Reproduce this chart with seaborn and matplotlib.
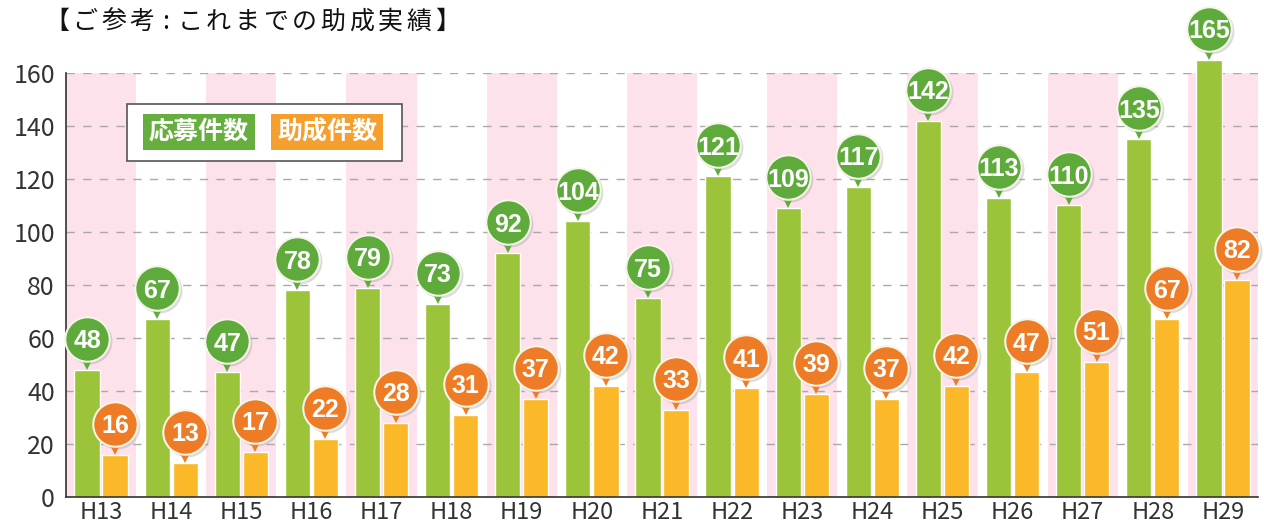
import pandas as pd
import seaborn as sns
import matplotlib.pyplot as plt
from matplotlib.patches import Rectangle
from matplotlib.transforms import offset_copy

# Data
years = ["H13", "H14", "H15", "H16", "H17", "H18", "H19", "H20", "H21",
         "H22", "H23", "H24", "H25", "H26", "H27", "H28", "H29"]
applications = [48, 67, 47, 78, 79, 73, 92, 104, 75, 121, 109, 117, 142, 113, 110, 135, 165]
grants = [16, 13, 17, 22, 28, 31, 37, 42, 33, 41, 39, 37, 42, 47, 51, 67, 82]
series_names = ["応募件数", "助成件数"]
title = "【ご参考:これまでの助成実績】"

bar_colors = ["#9cc43a", "#fbb828"]
bubble_colors = ["#5eab3c", "#ee7b25"]
legend_colors = ["#66ae3d", "#f5a02e"]
pink = "#fde1eb"

df = pd.DataFrame({
    "year": years * 2,
    "count": applications + grants,
    "kind": [series_names[0]] * len(years) + [series_names[1]] * len(years),
})

sns.set_style("white")
plt.rcParams["font.family"] = ["Noto Sans CJK JP", "DejaVu Sans"]

fig = plt.figure(figsize=(12.64, 5.29), dpi=100)
ax = fig.add_axes([66 / 1264, 32 / 529, 1192 / 1264, 424 / 529])

# alternating pink column backgrounds
for i in range(0, len(years), 2):
    ax.axvspan(i - 0.5, i + 0.5, color=pink, zorder=0, lw=0)

ax.set_axisbelow(True)
ax.yaxis.grid(True, ls=(0, (6, 6)), color="#aaaaaa", lw=1)

sns.barplot(data=df, x="year", y="count", hue="kind", order=years,
            hue_order=series_names, palette=bar_colors, width=0.8, gap=0.1,
            saturation=1, legend=False, ax=ax, zorder=2)
for p in ax.patches:
    p.set_clip_on(False)

ax.set_ylim(0, 160)
ax.set_xlim(-0.5, len(years) - 0.5)
ax.set_yticks(range(0, 161, 20))
ax.set_xlabel("")
ax.set_ylabel("")
ax.tick_params(axis="y", labelsize=18, colors="#333333", length=0, pad=8)
ax.tick_params(axis="x", labelsize=17, colors="#333333", length=0, pad=3)
ax.set_xticks([i + 0.5 for i in range(len(years) - 1)], minor=True)
ax.tick_params(axis="x", which="minor", direction="in", length=7, width=1.2, color="#333333")
for s in ["top", "right"]:
    ax.spines[s].set_visible(False)
for s in ["left", "bottom"]:
    ax.spines[s].set_color("#333333")
    ax.spines[s].set_linewidth(1.2)

# balloon labels above each bar
offsets = [-0.2, 0.2]
tr_circle = offset_copy(ax.transData, fig=fig, x=0, y=31, units="dots")
tr_tail = offset_copy(ax.transData, fig=fig, x=0, y=8, units="dots")
tr_shadow = offset_copy(ax.transData, fig=fig, x=2, y=29, units="dots")
for k, vals in enumerate([applications, grants]):
    for i, v in enumerate(vals):
        x = i + offsets[k]
        ax.plot(x, v, marker="o", ms=33, color="#999999", alpha=0.35, mew=0,
                transform=tr_shadow, clip_on=False, zorder=4)
        ax.plot(x, v, marker="v", ms=11, color=bubble_colors[k], mew=0,
                transform=tr_tail, clip_on=False, zorder=5)
        ax.plot(x, v, marker="o", ms=32, color=bubble_colors[k], mec="#f4f4e8",
                mew=1.5, transform=tr_circle, clip_on=False, zorder=6)
        ax.text(x, v, str(v), transform=tr_circle, ha="center", va="center_baseline",
                color="white", fontsize=18, fontweight="bold",
                family=["Liberation Sans", "DejaVu Sans"], zorder=7, clip_on=False)

# legend box
ax.add_patch(Rectangle((61 / 1192, (497 - 161) / 424), 275 / 1192, 57 / 424,
                       transform=ax.transAxes, facecolor="white",
                       edgecolor="#555555", lw=1.2, zorder=8))
for name, color, cx in zip(series_names, legend_colors, [199, 327]):
    ax.text((cx - 66) / 1192, (497 - 132) / 424, name, transform=ax.transAxes,
            ha="center", va="center", color="white", fontsize=18, fontweight="bold",
            zorder=9, bbox=dict(boxstyle="square,pad=0.25", facecolor=color, edgecolor="none"))

# title, set with a little letter spacing (each glyph centred in its cell)
x_px = 44
for ch in title:
    step = 19 if ch == ":" else 28.6
    fig.text((x_px + (step - 3.6) / 2) / 1264, 1 - 22 / 529, ch, ha="center",
             va="center", fontsize=18, color="#111111")
    x_px += step

fig.savefig("out.png", dpi=100)
